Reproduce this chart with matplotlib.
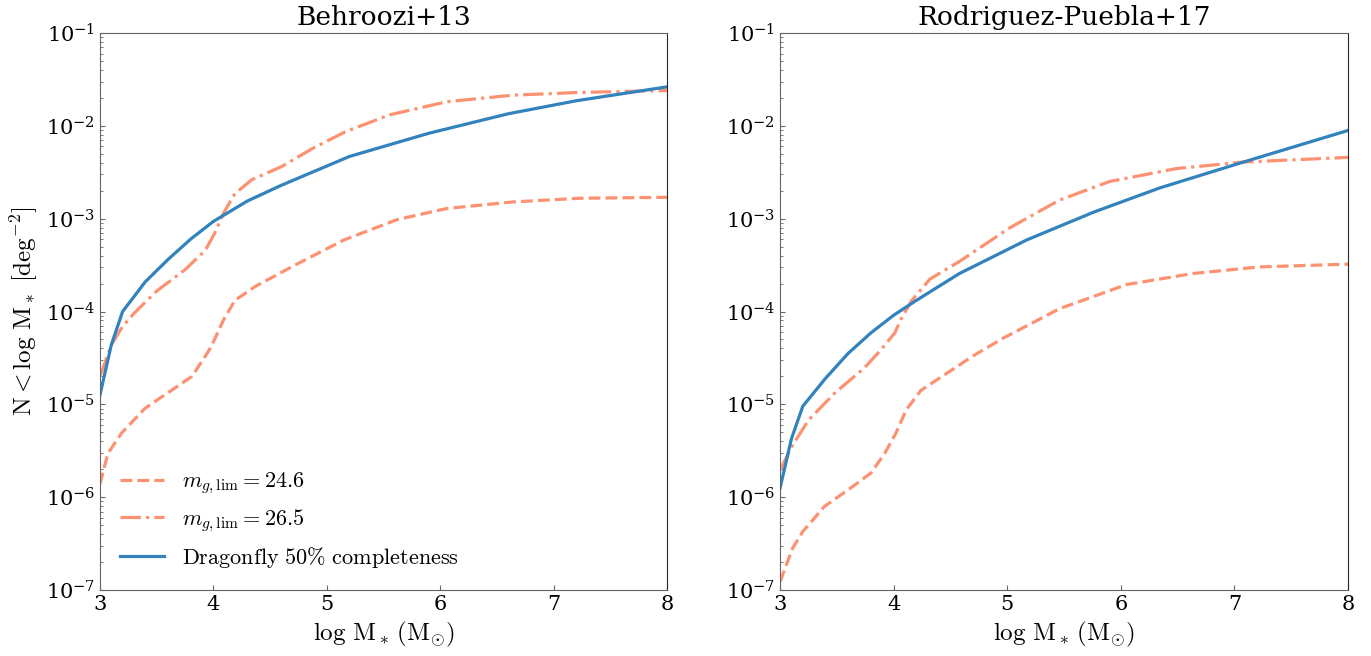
import numpy as np
import matplotlib
matplotlib.use("Agg")
import matplotlib.pyplot as plt
from matplotlib.ticker import FuncFormatter, FixedLocator

plt.rcParams['font.family'] = 'DejaVu Serif'
plt.rcParams['mathtext.fontset'] = 'cm'

# log10 of N(<log M*) [deg^-2]
# Behroozi+13
x_b_blue = [3.0, 3.1, 3.2, 3.4, 3.6, 3.8, 4.0, 4.3, 4.6, 5.2, 5.9, 6.6, 7.2, 8.0]
y_b_blue = [-4.90, -4.36, -4.00, -3.68, -3.44, -3.22, -3.03, -2.81, -2.64, -2.33, -2.08, -1.87, -1.73, -1.58]

x_b_dd = [3.0, 3.1, 3.2, 3.3, 3.5, 3.75, 3.93, 4.01, 4.09, 4.19, 4.34, 4.6, 4.88, 5.17, 5.56, 6.06, 6.64, 7.23, 8.0]
y_b_dd = [-4.70, -4.36, -4.16, -4.02, -3.78, -3.55, -3.34, -3.16, -2.94, -2.73, -2.58, -2.44, -2.24, -2.06, -1.88, -1.74, -1.67, -1.64, -1.62]

x_b_da = [3.0, 3.07, 3.19, 3.4, 3.63, 3.81, 3.93, 3.98, 4.09, 4.19, 4.37, 4.72, 5.15, 5.62, 6.06, 6.64, 7.23, 8.0]
y_b_da = [-5.86, -5.53, -5.31, -5.04, -4.85, -4.70, -4.48, -4.38, -4.09, -3.88, -3.73, -3.50, -3.23, -3.01, -2.89, -2.82, -2.78, -2.77]

# Rodriguez-Puebla+17
x_r_blue = [3.0, 3.1, 3.2, 3.4, 3.6, 3.8, 4.0, 4.2, 4.58, 5.17, 5.76, 6.34, 7.08, 8.0]
y_r_blue = [-5.90, -5.37, -5.02, -4.72, -4.45, -4.23, -4.04, -3.88, -3.59, -3.23, -2.93, -2.67, -2.39, -2.05]

x_r_dd = [3.0, 3.1, 3.25, 3.48, 3.74, 3.89, 4.01, 4.07, 4.16, 4.32, 4.58, 5.02, 5.46, 5.9, 6.49, 7.08, 8.0]
y_r_dd = [-5.71, -5.46, -5.17, -4.88, -4.61, -4.41, -4.23, -4.07, -3.88, -3.65, -3.46, -3.10, -2.80, -2.60, -2.46, -2.39, -2.34]

x_r_da = [3.0, 3.11, 3.2, 3.39, 3.6, 3.8, 3.92, 4.02, 4.11, 4.24, 4.45, 4.71, 4.96, 5.46, 6.05, 6.64, 7.22, 8.0]
y_r_da = [-6.91, -6.55, -6.37, -6.10, -5.92, -5.74, -5.53, -5.31, -5.06, -4.85, -4.68, -4.47, -4.29, -3.97, -3.71, -3.59, -3.52, -3.49]

titles = ['Behroozi+13', 'Rodriguez-Puebla+17']
labels = [r'$m_{g,\mathrm{lim}} = 24.6$', r'$m_{g,\mathrm{lim}} = 26.5$',
          r'$\mathrm{Dragonfly\ 50\%\ completeness}$']
yticks = [1e-7, 1e-6, 1e-5, 1e-4, 1e-3, 1e-2, 1e-1]

orange = '#fc9272'
blue = '#3182bd'

fig = plt.figure(figsize=(13.71, 6.56), dpi=100)
ax1 = fig.add_axes([0.0729, 0.1006, 0.4136, 0.8491])
ax2 = fig.add_axes([0.5690, 0.1006, 0.4142, 0.8491])

panels = [(ax1, x_b_da, y_b_da, x_b_dd, y_b_dd, x_b_blue, y_b_blue),
          (ax2, x_r_da, y_r_da, x_r_dd, y_r_dd, x_r_blue, y_r_blue)]

fmt = FuncFormatter(lambda v, p: r'$\mathregular{10^{%d}}$' % round(np.log10(v)))
minors = [m * d for d in yticks[:-1] for m in range(2, 10)]

for i, (ax, xa, ya, xd, yd, xb, yb) in enumerate(panels):
    ax.plot(xa, 10 ** np.array(ya), '--', color=orange, lw=2.3, label=labels[0])
    ax.plot(xd, 10 ** np.array(yd), '-.', color=orange, lw=2.3, label=labels[1])
    ax.plot(xb, 10 ** np.array(yb), '-', color=blue, lw=2.3, label=labels[2])
    ax.set_yscale('log')
    ax.set_xlim(3, 8)
    ax.set_ylim(1e-7, 1e-1)
    ax.yaxis.set_major_locator(FixedLocator(yticks))
    ax.yaxis.set_minor_locator(FixedLocator(minors))
    ax.yaxis.set_major_formatter(fmt)
    ax.yaxis.set_minor_formatter(FuncFormatter(lambda v, p: ''))
    ax.tick_params(direction='in', labelsize=15, color='0.4')
    ax.tick_params(which='minor', direction='in', color='0.4')
    for s in ['left', 'bottom', 'top']:
        ax.spines[s].set_color('0.4')
    ax.spines['right'].set_color('0.15')
    ax.set_title(titles[i], fontsize=19)
    ax.set_xlabel(r'$\log\,\mathrm{M}_*\,(\mathrm{M}_{\odot})$', fontsize=18)

ax1.set_ylabel(r'$\mathrm{N} < \log\,\mathrm{M}_*\ [\mathrm{deg}^{-2}]$', fontsize=18)
ax1.legend(loc='lower left', frameon=False, fontsize=16)

fig.savefig('out.png', dpi=100)
